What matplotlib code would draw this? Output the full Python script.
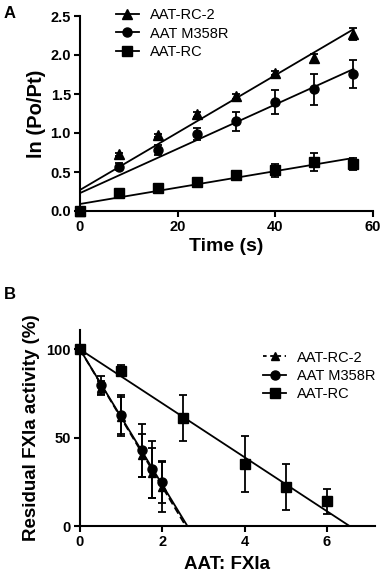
import matplotlib.pyplot as plt
import numpy as np

plt.rcParams["font.family"] = ["Liberation Sans", "DejaVu Sans"]

# ---------------- Panel A data ----------------
time_s = [0, 8, 16, 24, 32, 40, 48, 56]
rc2_a = [0.0, 0.73, 0.97, 1.24, 1.47, 1.77, 1.96, 2.27]
rc2_a_err = [0.0, 0.02, 0.02, 0.03, 0.03, 0.03, 0.05, 0.08]
m358r_a = [0.0, 0.57, 0.78, 0.99, 1.15, 1.40, 1.56, 1.76]
m358r_a_err = [0.0, 0.05, 0.06, 0.08, 0.12, 0.15, 0.20, 0.18]
rc_a = [0.0, 0.23, 0.29, 0.37, 0.46, 0.52, 0.63, 0.60]
rc_a_err = [0.0, 0.02, 0.02, 0.03, 0.05, 0.08, 0.12, 0.08]

# linear fits (start value at t=0, end value at t=56)
fit_t = [0, 56]
rc2_a_fit = [0.27, 2.33]
m358r_a_fit = [0.23, 1.82]
rc_a_fit = [0.09, 0.68]

# ---------------- Panel B data ----------------
ratio_short = [0, 0.5, 1, 1.5, 1.75, 2]
rc2_b = [100, 78, 62, 40, 30, 22]
rc2_b_err = [0, 4, 11, 12, 14, 14]
m358r_b = [100, 80, 63, 43, 32, 25]
m358r_b_err = [0, 5, 11, 15, 16, 12]
ratio_rc = [0, 1, 2.5, 4, 5, 6]
rc_b = [100, 88, 61, 35, 22, 14]
rc_b_err = [0, 3, 13, 16, 13, 7]

# fitted lines from 100 % down to x-intercept
rc2_b_fit_x = [0, 2.57]
m358r_b_fit_x = [0, 2.61]
rc_b_fit_x = [0, 6.55]
b_fit_y = [100, 0]

W, H = 383, 574
fig = plt.figure(figsize=(W / 100, H / 100), dpi=100)

tick_kw = dict(direction="out", length=4, width=1.5, labelsize=10.5, pad=2.5)


def style(ax):
    for s in ("top", "right"):
        ax.spines[s].set_visible(False)
    for s in ("left", "bottom"):
        ax.spines[s].set_linewidth(1.5)
    ax.tick_params(**tick_kw)
    for lab in ax.get_xticklabels() + ax.get_yticklabels():
        lab.set_fontweight("bold")


eb_kw = dict(color="black", capsize=3, elinewidth=1.3, capthick=1.3,
             linestyle="none", clip_on=False, zorder=3)
leg_kw = dict(loc="upper left", frameon=False, fontsize=10.5,
              handlelength=1.6, handletextpad=0.75, labelspacing=0.3,
              borderaxespad=0)

# ---------------- Panel A ----------------
axA = fig.add_axes([80 / W, 1 - 211 / H, 293 / W, 195 / H])
axA.errorbar(time_s, rc2_a, yerr=rc2_a_err, marker="^", ms=6.5, **eb_kw)
axA.errorbar(time_s, m358r_a, yerr=m358r_a_err, marker="o", ms=6.5, **eb_kw)
axA.errorbar(time_s, rc_a, yerr=rc_a_err, marker="s", ms=6.5, **eb_kw)
axA.plot(fit_t, rc2_a_fit, color="black", lw=1.3)
axA.plot(fit_t, m358r_a_fit, color="black", lw=1.3)
axA.plot(fit_t, rc_a_fit, color="black", lw=1.3)
axA.set_xlim(0, 60)
axA.set_ylim(0, 2.5)
axA.set_xticks([0, 20, 40, 60])
axA.set_yticks([0, 0.5, 1.0, 1.5, 2.0, 2.5])
axA.set_yticklabels(["0.0", "0.5", "1.0", "1.5", "2.0", "2.5"])
style(axA)
axA.set_xlabel("Time (s)", fontsize=14, fontweight="bold", labelpad=3)
axA.set_ylabel("ln (Po/Pt)", fontsize=14.5, fontweight="bold", labelpad=3)

hA = [plt.Line2D([0], [0], color="black", lw=1.3, marker=m, ms=6.5)
      for m in ("^", "o", "s")]
axA.legend(hA, ["AAT-RC-2", "AAT M358R", "AAT-RC"],
           bbox_to_anchor=(0.102, 1.07), **leg_kw)
fig.text(4 / W, 1 - 18 / H, "A", fontsize=12, fontweight="bold")

# ---------------- Panel B ----------------
axB = fig.add_axes([80 / W, 1 - 526 / H, 295 / W, 196 / H])
axB.errorbar(ratio_short, rc2_b, yerr=rc2_b_err, marker="^", ms=5.5, **eb_kw)
axB.errorbar(ratio_short, m358r_b, yerr=m358r_b_err, marker="o", ms=6.5, **eb_kw)
axB.errorbar(ratio_rc, rc_b, yerr=rc_b_err, marker="s", ms=6.5, **eb_kw)
axB.plot(rc2_b_fit_x, b_fit_y, color="black", lw=1.3, ls=(0, (4, 2)))
axB.plot(m358r_b_fit_x, b_fit_y, color="black", lw=1.3)
axB.plot(rc_b_fit_x, b_fit_y, color="black", lw=1.3)
axB.set_xlim(0, 7.17)
axB.set_ylim(0, 111)
axB.set_xticks([0, 2, 4, 6])
axB.set_yticks([0, 50, 100])
style(axB)
axB.set_xlabel("AAT: FXIa", fontsize=13.5, fontweight="bold", labelpad=5)
axB.set_ylabel("Residual FXIa activity (%)", fontsize=13.5,
               fontweight="bold", labelpad=5)

hB = [plt.Line2D([0], [0], color="black", lw=1.3, marker="^", ms=5.5,
                 ls=(0, (2, 2))),
      plt.Line2D([0], [0], color="black", lw=1.3, marker="o", ms=6.5),
      plt.Line2D([0], [0], color="black", lw=1.3, marker="s", ms=6.5)]
axB.legend(hB, ["AAT-RC-2", "AAT M358R", "AAT-RC"],
           bbox_to_anchor=(0.6, 0.925), **leg_kw)
fig.text(4 / W, 1 - 299 / H, "B", fontsize=12, fontweight="bold")

fig.savefig("out.png", dpi=100)
